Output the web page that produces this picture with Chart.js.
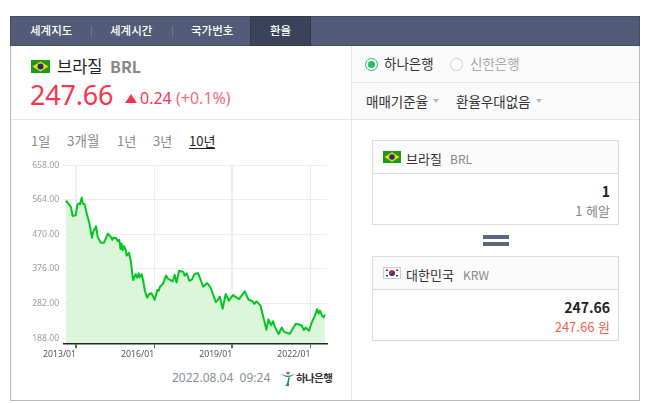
<!DOCTYPE html>
<html lang="ko">
<head>
<meta charset="utf-8">
<script src="https://cdn.jsdelivr.net/npm/chart.js@4"></script>
<style>
html,body{margin:0;padding:0;background:#fff;width:654px;height:403px;overflow:hidden}
body{font-family:"Noto Sans CJK KR","Noto Sans",sans-serif;color:#222;position:relative}
.a{position:absolute;white-space:nowrap;line-height:1}
.box{position:absolute;box-sizing:border-box}
.tab{color:#fff;font-size:11.5px;font-weight:500;top:25px}
.sep{position:absolute;top:26px;width:1px;height:11px;background:#6d7691}
.hd{position:absolute;background:#fbfbfb}
.gray{color:#888}
.caret{position:absolute;width:0;height:0;border-left:3.5px solid transparent;border-right:3.5px solid transparent;border-top:4px solid #bbb}
#wrap{position:absolute;left:16px;top:156px;width:316px;height:212px}
#c{display:block}
</style>
</head>
<body>
<div class="box" style="left:10px;top:16px;width:630px;height:385px;border:1px solid #b9b9b9"></div>
<div class="box" style="left:10px;top:16px;width:630px;height:30px;background:#525c78;border:1px solid #454d66"></div>
<div class="box" style="left:250px;top:16px;width:61px;height:30px;background:#3c4259;border:1px solid #333a50"></div>
<div class="a tab" style="left:30px">세계지도</div><div class="sep" style="left:91px"></div>
<div class="a tab" style="left:110px">세계시간</div><div class="sep" style="left:172px"></div>
<div class="a tab" style="left:191px">국가번호</div>
<div class="a tab" style="left:270px">환율</div>

<svg class="box" style="left:31px;top:60px" width="19" height="13" viewBox="0 0 19 13"><rect width="19" height="13" fill="#1c9a1c"/><path d="M9.5 1.5L17.5 6.5L9.5 11.5L1.5 6.5Z" fill="#f5d90a"/><circle cx="9.5" cy="6.5" r="3" fill="#1d2f7a"/></svg>
<div class="a" style="left:57px;top:58px;font-size:16.5px">브라질</div>
<div class="a gray" style="left:110px;top:58px;font-size:16px;font-weight:700">BRL</div>
<div class="a" style="left:30px;top:81px;font-size:27px;letter-spacing:-.2px;color:#f9354c;font-family:'Noto Sans',sans-serif">247.66</div>
<div class="a" style="left:125px;top:94px;width:0;height:0;border-left:6px solid transparent;border-right:6px solid transparent;border-bottom:9px solid #f9354c"></div>
<div class="a" style="left:140px;top:90px;font-size:16px;color:#f9354c;font-family:'Noto Sans',sans-serif">0.24</div>
<div class="a" style="left:176px;top:90px;font-size:16px;color:#f9687a;font-family:'Noto Sans',sans-serif">(+0.1%)</div>
<div class="box" style="left:11px;top:119px;width:340px;height:1px;background:#e6e6e6"></div>

<div class="a" style="left:31px;top:134px;font-size:13px;color:#a08a6c">1<span style="color:#888">일</span></div>
<div class="a gray" style="left:67px;top:134px;font-size:13.5px">3개월</div>
<div class="a gray" style="left:117px;top:134px;font-size:13px">1년</div>
<div class="a gray" style="left:153px;top:134px;font-size:13px">3년</div>
<div class="a" style="left:189px;top:134px;font-size:13px;color:#222;border-bottom:1px solid #222;padding-bottom:1px">10년</div>

<div id="wrap"><canvas id="c" width="316" height="212"></canvas></div>

<div class="a" style="left:172px;top:372px;font-size:12px;color:#8a8f99;font-family:'Noto Sans',sans-serif">2022.08.04&nbsp;&nbsp;09:24</div>
<svg class="box" style="left:280px;top:371px" width="16" height="16" viewBox="0 0 16 16"><path d="M1 2.5C5 5.5 11 5.5 15 2.5C12 7 4 7 1 2.5Z" fill="#0b8f80"/><circle cx="8" cy="2" r="1.6" fill="#e0355a"/><path d="M8 6.5C8 10 7 13 5.5 15L9 15C8.6 12 9 9 10 6.5Z" fill="#0b8f80"/></svg>
<div class="a" style="left:296px;top:373px;font-size:10.5px;font-weight:700;color:#333;letter-spacing:-.6px">하나은행</div>

<div class="box" style="left:351px;top:46px;width:1px;height:354px;background:#e6e6e6"></div>
<div class="box" style="left:352px;top:46px;width:287px;height:73px;background:#fafafa"></div>
<div class="box" style="left:352px;top:82px;width:287px;height:1px;background:#e6e6e6"></div>
<div class="box" style="left:352px;top:119px;width:287px;height:1px;background:#e6e6e6"></div>
<div class="box" style="left:365px;top:58px;width:13px;height:13px;border:1px solid #20c060;border-radius:50%;background:#fff"></div>
<div class="box" style="left:368px;top:61px;width:7px;height:7px;border-radius:50%;background:#20c060"></div>
<div class="a" style="left:384px;top:57px;font-size:13.5px;color:#333">하나은행</div>
<div class="box" style="left:450px;top:58px;width:13px;height:13px;border:1px solid #ccc;border-radius:50%;background:#fff"></div>
<div class="a" style="left:470px;top:57px;font-size:13.5px;color:#aaa">신한은행</div>
<div class="a" style="left:366px;top:95px;font-size:13.5px;color:#333">매매기준율</div><div class="caret" style="left:433px;top:99px"></div>
<div class="a" style="left:456px;top:95px;font-size:13.5px;color:#333">환율우대없음</div><div class="caret" style="left:536px;top:99px"></div>

<div class="box" style="left:372px;top:140px;width:247px;height:85px;border:1px solid #dcdcdc"></div>
<div class="hd" style="left:373px;top:141px;width:245px;height:32px"></div>
<div class="box" style="left:373px;top:173px;width:245px;height:1px;background:#dcdcdc"></div>
<svg class="box" style="left:383px;top:151px" width="18" height="12" viewBox="0 0 18 12"><rect width="18" height="12" fill="#1c9a1c"/><path d="M9 1.2L16.5 6L9 10.8L1.5 6Z" fill="#f5d90a"/><circle cx="9" cy="6" r="2.8" fill="#1d2f7a"/></svg>
<div class="a" style="left:406px;top:152px;font-size:13px;color:#333">브라질</div>
<div class="a gray" style="left:450px;top:153px;font-size:12px">BRL</div>
<div class="a" style="right:44px;top:184px;font-size:14px;font-weight:700;color:#222;height:14px">1</div>
<div class="a" style="right:44px;top:204px;font-size:13px;color:#888;height:13px">1 헤알</div>

<div class="box" style="left:483px;top:235px;width:26px;height:4px;background:#5b6480"></div>
<div class="box" style="left:483px;top:242px;width:26px;height:4px;background:#5b6480"></div>

<div class="box" style="left:372px;top:256px;width:247px;height:85px;border:1px solid #dcdcdc"></div>
<div class="hd" style="left:373px;top:257px;width:245px;height:32px"></div>
<div class="box" style="left:373px;top:289px;width:245px;height:1px;background:#dcdcdc"></div>
<svg class="box" style="left:383px;top:267px" width="18" height="12" viewBox="0 0 18 12"><rect x=".5" y=".5" width="17" height="11" fill="#fff" stroke="#ccc"/><circle cx="9" cy="6" r="3" fill="#c8283c"/><path d="M6 6a3 3 0 0 0 6 0a1.5 1.5 0 0 0-3 0a1.5 1.5 0 0 1-3 0Z" fill="#24478f"/><g fill="#333"><rect x="3" y="2.5" width="2" height="1.4"/><rect x="13" y="2.5" width="2" height="1.4"/><rect x="3" y="8" width="2" height="1.4"/><rect x="13" y="8" width="2" height="1.4"/></g></svg>
<div class="a" style="left:406px;top:268px;font-size:13px;color:#333">대한민국</div>
<div class="a gray" style="left:463px;top:269px;font-size:12px">KRW</div>
<div class="a" style="right:44px;top:300px;font-size:14px;font-weight:700;color:#222;height:14px">247.66</div>
<div class="a" style="right:44px;top:320px;font-size:13px;color:#f9604a;height:13px">247.66 원</div>

<script>
const years = [2012.605,2012.69,2012.80,2012.87,2012.99,2013.05,2013.10,2013.15,2013.22,2013.26,2013.33,2013.41,2013.51,2013.61,2013.66,2013.77,2013.83,2013.95,2014.07,2014.22,2014.33,2014.39,2014.43,2014.53,2014.60,2014.66,2014.71,2014.75,2014.79,2014.84,2014.91,2014.94,2015.03,2015.10,2015.19,2015.29,2015.35,2015.41,2015.45,2015.52,2015.58,2015.64,2015.73,2015.81,2015.90,2016.02,2016.12,2016.18,2016.22,2016.33,2016.46,2016.54,2016.71,2016.79,2016.86,2016.96,2017.12,2017.17,2017.25,2017.35,2017.45,2017.55,2017.69,2017.82,2017.88,2018.04,2018.17,2018.37,2018.45,2018.52,2018.63,2018.75,2018.87,2019.03,2019.26,2019.48,2019.62,2019.78,2019.85,2019.93,2020.08,2020.21,2020.31,2020.39,2020.49,2020.57,2020.64,2020.78,2020.90,2020.99,2021.21,2021.44,2021.66,2021.75,2021.82,2021.95,2022.05,2022.18,2022.26,2022.32,2022.37,2022.46,2022.50,2022.56];
const rates = [562,555,545,520,522,551,554,552,570,553,552,527,501,461,477,492,463,447,447,472,464,455,461,461,452,455,430,445,427,438,428,412,420,398,346,362,352,364,353,362,344,317,298,308,310,292,319,317,328,335,358,349,342,360,339,371,368,358,364,344,347,362,365,340,328,338,325,286,292,301,268,308,290,305,294,315,293,288,281,288,277,241,211,239,223,234,218,199,217,205,200,227,223,210,217,208,230,250,267,255,263,248,244,252];
const xTickValues = [2013,2016,2019,2022];
const xTickLabels = ['2013/01','2016/01','2019/01','2022/01'];
const yTickValues = [188,282,376,470,564,658];

new Chart(document.getElementById('c'), {
  type: 'line',
  data: { datasets: [{
    data: years.map((y,i)=>({x:y,y:rates[i]})),
    borderColor:'#00c81e', borderWidth:2, pointRadius:0, tension:0,
    borderJoinStyle:'round',
    fill:'start', backgroundColor:'#dcf6dc'
  }]},
  options: {
    responsive:false, animation:false, events:[],
    devicePixelRatio:1,
    layout:{padding:{left:0,right:5.5,top:7.5,bottom:0}},
    plugins:{legend:{display:false},tooltip:{enabled:false}},
    scales:{
      x:{type:'linear',min:2012.51,max:2022.62,
        afterBuildTicks(a){a.ticks=xTickValues.map(v=>({value:v}));},
        grid:{color:'rgba(120,125,150,0.14)',lineWidth:ctx=>ctx.index%2===0?2:1,tickLength:5,tickColor:'#666'},
        border:{color:'#222',width:1.5,z:2},
        ticks:{align:'end',maxRotation:0,autoSkip:false,padding:1,color:'#555',font:{size:8.7,family:"'Noto Sans',sans-serif"},
          callback(v){const i=xTickValues.indexOf(v);return i<0?'':xTickLabels[i];}},
        afterFit(a){a.height=24.7;}
      },
      y:{min:174,max:658,
        afterBuildTicks(a){a.ticks=yTickValues.map(v=>({value:v}));},
        grid:{color:'#ecedf0',lineWidth:1,drawTicks:false},
        border:{display:false},
        ticks:{padding:4,color:'#9a9da8',font:{size:8.7,family:"'Noto Sans',sans-serif"},
          callback(v){return v.toFixed(2);}},
        afterFit(a){a.width=47.3;}
      }
    }
  }
});
</script>
</body>
</html>
